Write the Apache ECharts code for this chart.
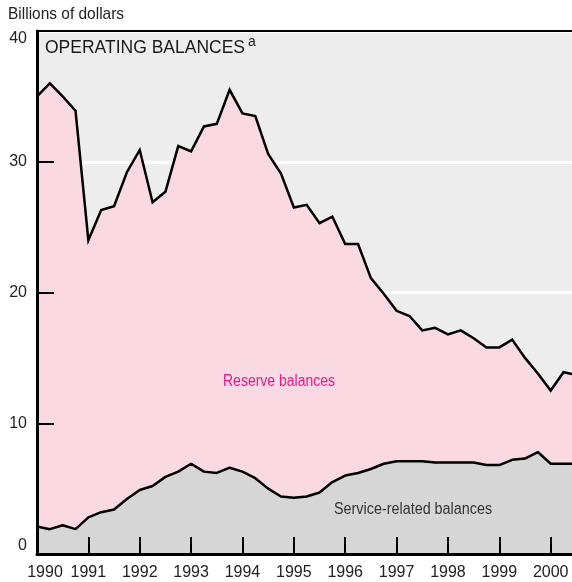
<!DOCTYPE html>
<html>
<head>
<meta charset="utf-8">
<script src="https://cdn.jsdelivr.net/npm/echarts@6/dist/echarts.min.js"></script>
<style>
html,body{margin:0;padding:0;background:#fff;}
#c{width:572px;height:582px;}
</style>
</head>
<body>
<div id="c"></div>
<script>
// Quarterly observations starting 1990 Q1
var startYear = 1990;
var totalBalances = [35.0, 36.0, 35.0, 33.9, 24.0, 26.3, 26.6, 29.2, 30.9, 26.9, 27.7, 31.2, 30.8, 32.7, 32.9, 35.5,
  33.7, 33.5, 30.6, 29.1, 26.5, 26.7, 25.3, 25.8, 23.7, 23.7, 21.1, 19.9, 18.6, 18.2, 17.1, 17.3,
  16.8, 17.1, 16.5, 15.8, 15.8, 16.4, 15.0, 13.8, 12.5, 13.9, 13.7];
var serviceBalances = [2.1, 1.9, 2.2, 1.9, 2.8, 3.2, 3.4, 4.2, 4.9, 5.2, 5.9, 6.3, 6.9, 6.3, 6.2, 6.6,
  6.3, 5.8, 5.0, 4.4, 4.3, 4.4, 4.7, 5.5, 6.0, 6.2, 6.5, 6.9, 7.1, 7.1, 7.1, 7.0,
  7.0, 7.0, 7.0, 6.8, 6.8, 7.2, 7.3, 7.8, 6.9, 6.9, 6.9];
var yTicks = [0, 10, 20, 30, 40];
var xTickYears = [1990, 1991, 1992, 1993, 1994, 1995, 1996, 1997, 1998, 1999, 2000];
var seriesLabels = ['Reserve balances', 'Service-related balances'];

function toPairs(arr) {
  return arr.map(function (v, i) { return [startYear + i / 4, v]; });
}

var sans = "'Liberation Sans', Arial, sans-serif";
var chart = echarts.init(document.getElementById('c'));
chart.setOption({
  animation: false,
  backgroundColor: '#ffffff',
  grid: {left: 37, right: 0, top: 31, bottom: 28, show: true, backgroundColor: '#ededed', borderWidth: 0},
  xAxis: [{
    type: 'value', min: 1990, max: 2000.415, interval: 1, z: 10,
    axisLine: {show: true, lineStyle: {color: '#000', width: 3}},
    axisTick: {show: true, inside: true, length: 17, lineStyle: {color: '#000', width: 2}},
    splitLine: {show: false},
    axisLabel: {
      color: '#222', fontSize: 16, fontFamily: sans, margin: 11,
      showMaxLabel: false,
      formatter: function (v) {
        if (xTickYears.indexOf(v) < 0) return '';
        return v === 1990 ? '{first|' + v + '}' : String(v);
      },
      rich: {first: {fontSize: 16, fontFamily: sans, color: '#222', padding: [0, 0, 0, 16]}}
    }
  }, {
    type: 'value', position: 'top', min: 1990, max: 2000.415, z: 10,
    axisLine: {show: true, onZero: false, lineStyle: {color: '#000', width: 2}},
    axisTick: {show: false}, axisLabel: {show: false}, splitLine: {show: false}
  }],
  yAxis: [{
    type: 'value', min: 0, max: 40, interval: 10, z: 0,
    axisLine: {show: false}, axisTick: {show: false}, axisLabel: {show: false},
    splitLine: {show: true, lineStyle: {color: '#ffffff', width: 3}}
  }, {
    type: 'value', min: 0, max: 40, interval: 10, z: 10, position: 'left',
    axisLine: {show: true, lineStyle: {color: '#000', width: 3}},
    axisTick: {show: true, inside: true, length: 17, lineStyle: {color: '#000', width: 2}},
    splitLine: {show: false},
    axisLabel: {
      color: '#222', fontSize: 16, fontFamily: sans, margin: 10,
      verticalAlignMinLabel: 'bottom', verticalAlignMaxLabel: 'top',
      formatter: function (v) { return yTicks.indexOf(v) >= 0 ? String(v) : ''; }
    }
  }],
  title: [{
    text: '{m|OPERATING BALANCES}{s|a}', left: 40, top: 30, z: 20,
    textStyle: {
      fontWeight: 'normal',
      rich: {
        m: {fontSize: 17.5, fontWeight: 'normal', color: '#1a1a1a', fontFamily: sans, verticalAlign: 'bottom'},
        s: {fontSize: 14, fontWeight: 'normal', color: '#1a1a1a', fontFamily: sans, padding: [0, 0, 8, 3], verticalAlign: 'bottom'}
      }
    }
  }],
  graphic: [{
    type: 'text', x: 8, y: 6, scaleX: 0.91, z: 100,
    style: {text: 'Billions of dollars', fill: '#222', fontSize: 17, fontFamily: sans}
  }, {
    type: 'text', x: 223, y: 374, scaleX: 0.875, z: 100,
    style: {text: seriesLabels[0], fill: '#e6198a', fontSize: 16, fontFamily: sans}
  }, {
    type: 'text', x: 334, y: 502, scaleX: 0.898, z: 100,
    style: {text: seriesLabels[1], fill: '#333333', fontSize: 16, fontFamily: sans}
  }],
  series: [{
    name: seriesLabels[0], type: 'line', data: toPairs(totalBalances),
    symbol: 'none', clip: true, yAxisIndex: 0,
    lineStyle: {color: '#000', width: 2.5, join: 'miter'},
    areaStyle: {color: '#fad9e3', opacity: 1, origin: 'start'},
    z: 2
  }, {
    name: seriesLabels[1], type: 'line', data: toPairs(serviceBalances),
    symbol: 'none', clip: true, yAxisIndex: 0,
    lineStyle: {color: '#000', width: 2.5},
    areaStyle: {color: '#d6d6d6', opacity: 1, origin: 'start'},
    z: 3
  }]
});
</script>
</body>
</html>
